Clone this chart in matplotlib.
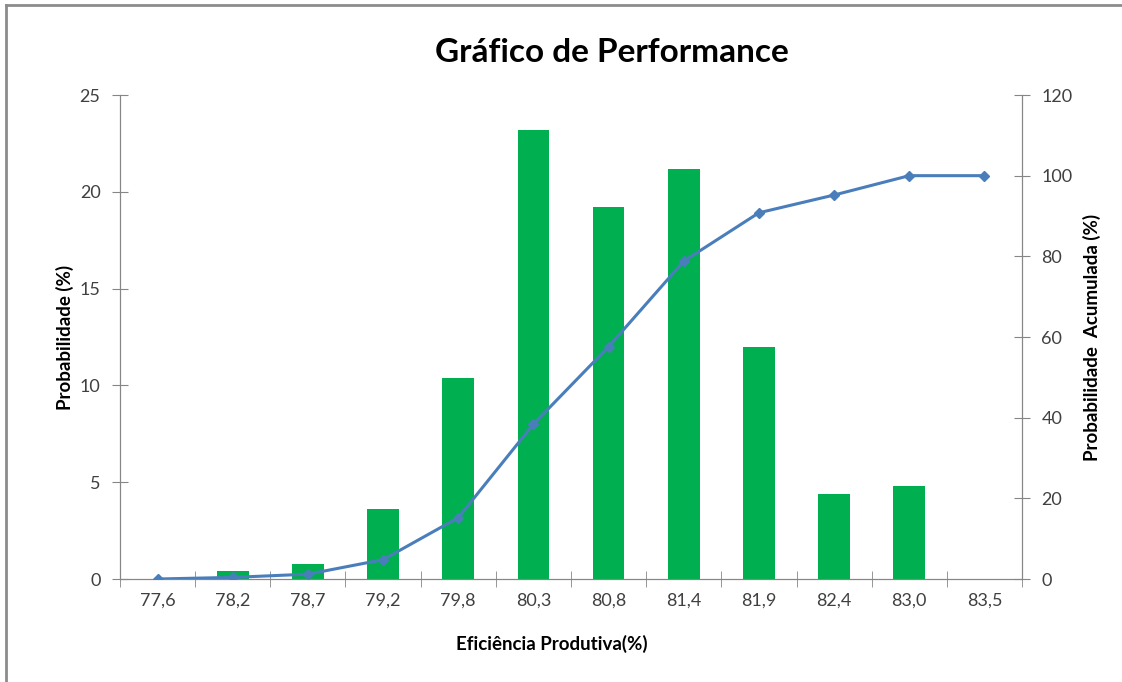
import matplotlib.pyplot as plt
from matplotlib.lines import Line2D
import numpy as np

plt.rcParams['font.family'] = ['Lato', 'DejaVu Sans']

categorias = ['77,6', '78,2', '78,7', '79,2', '79,8', '80,3', '80,8', '81,4', '81,9', '82,4', '83,0', '83,5']
probabilidade = [0, 0.4, 0.8, 3.6, 10.4, 23.2, 19.2, 21.2, 12.0, 4.4, 4.8, 0]
acumulada = [0, 0.4, 1.2, 4.8, 15.2, 38.4, 57.6, 78.8, 90.8, 95.2, 100, 100]

verde = '#00B050'
azul = '#4A7EBB'
cinza = '#868686'

fig = plt.figure(figsize=(11.22, 6.82), dpi=100)
ax = fig.add_axes([120 / 1122, 1 - 579 / 682, 902 / 1122, 484 / 682])
ax2 = ax.twinx()

x = np.arange(len(categorias))
ax.bar(x, probabilidade, width=0.42, color=verde, zorder=2)
ax2.plot(x, acumulada, color=azul, lw=2.2, marker='D', ms=5.5, zorder=3)

ax.set_xlim(-0.5, len(categorias) - 0.5)
ax.set_ylim(0, 25)
ax2.set_ylim(0, 120)
ax.set_yticks(range(0, 26, 5))
ax2.set_yticks(range(0, 121, 20))
ax.set_xticks(x)
ax.set_xticklabels(categorias)
ax.set_xticks(np.arange(-0.5, len(categorias), 1), minor=True)

for a in (ax, ax2):
    a.spines['top'].set_visible(False)
    for s in ('left', 'right', 'bottom'):
        a.spines[s].set_color(cinza)
    a.tick_params(axis='y', direction='inout', length=12, color=cinza, labelsize=13, labelcolor='#404040', pad=8)
ax.tick_params(axis='x', which='major', length=0, labelsize=13, labelcolor='#404040', pad=10)
ax.tick_params(axis='x', which='minor', direction='inout', length=12, color=cinza)

ax.set_xlabel('Eficiência Produtiva(%)', fontsize=13.5, fontweight='bold')
ax.xaxis.set_label_coords(0.479, -0.115)
ax.set_ylabel('Probabilidade (%)', fontsize=13.5, fontweight='bold')
ax.yaxis.set_label_coords(-0.051, 0.5)
ax2.set_ylabel('Probabilidade  Acumulada (%)', fontsize=13.5, fontweight='bold')
ax2.yaxis.set_label_coords(1.067, 0.5)

fig.text(612 / 1122, 1 - 52 / 682, 'Gráfico de Performance', fontsize=24, fontweight='bold',
         ha='center', va='center')

# moldura do grafico (so topo e esquerda visiveis no recorte)
fig.add_artist(Line2D([6 / 1122, 6 / 1122], [0, 1 - 5 / 682], transform=fig.transFigure, color='#8c8c8c', lw=2))
fig.add_artist(Line2D([6 / 1122, 1], [1 - 5 / 682, 1 - 5 / 682], transform=fig.transFigure, color='#8c8c8c', lw=2))

fig.savefig('out.png', dpi=100)
